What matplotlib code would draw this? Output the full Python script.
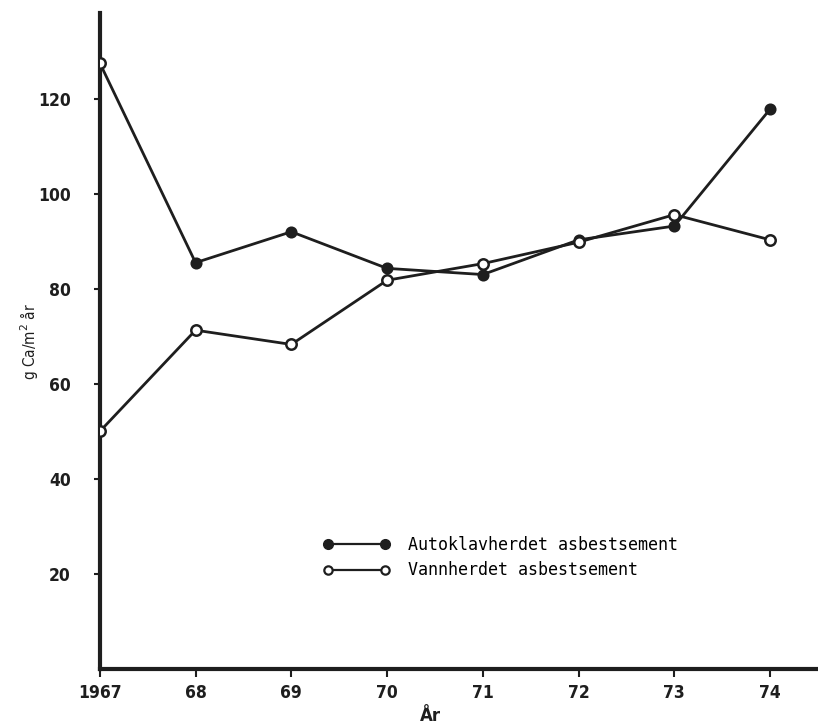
import matplotlib.pyplot as plt
from matplotlib.lines import Line2D

# years on the x axis (1967 .. 1974)
years = [1967, 1968, 1969, 1970, 1971, 1972, 1973, 1974]
year_labels = ["1967", "68", "69", "70", "71", "72", "73", "74"]

# g Ca / m2 per year
autoklav = [127.5, 85.5, 92.0, 84.3, 83.0, 90.3, 93.2, 117.8]
vannherdet = [50.0, 71.3, 68.3, 81.8, 85.3, 89.8, 95.6, 90.3]

y_ticks = [20, 40, 60, 80, 100, 120]

ink = "#1e1e1e"
tick_font = dict(family="DejaVu Sans", stretch="condensed",
                 weight="bold", size=12.5)

fig = plt.figure(figsize=(8.18, 7.25), dpi=100)
ax = fig.add_axes([0.122, 0.077, 0.878, 0.905])

# autoklavherdet: filled markers (first point is drawn open in the original)
ax.plot(years, autoklav, "-", color=ink, linewidth=2.0, zorder=2)
ax.plot(years[1:], autoklav[1:], "o", color=ink, markersize=7.5,
        markeredgewidth=1.2, zorder=3)
ax.plot(years[:1], autoklav[:1], "o", markerfacecolor="white",
        markeredgecolor=ink, markersize=7.5, markeredgewidth=1.8, zorder=3)

# vannherdet: open markers
ax.plot(years, vannherdet, "-o", color=ink, linewidth=2.0,
        markerfacecolor="white", markeredgecolor=ink,
        markersize=7.5, markeredgewidth=1.8, zorder=3)

ax.set_xlim(1967, 1974.5)
ax.set_ylim(0, 138)

ax.set_xticks(years)
ax.set_xticklabels(year_labels, fontdict=tick_font)
ax.set_yticks(y_ticks)
ax.set_yticklabels([str(v) for v in y_ticks], fontdict=tick_font)

for side in ["top", "right"]:
    ax.spines[side].set_visible(False)
for side in ["left", "bottom"]:
    ax.spines[side].set_linewidth(3)
    ax.spines[side].set_color(ink)

ax.tick_params(axis="y", direction="out", length=4, width=1.5, pad=17,
               colors=ink)
ax.tick_params(axis="x", direction="out", length=6, width=1.5, pad=5,
               colors=ink)

ax.set_ylabel("g Ca/m$^2$ år", fontsize=11, color=ink,
              family="DejaVu Sans", stretch="condensed")
ax.yaxis.set_label_coords(-0.083, 0.5)
ax.set_xlabel("År", fontsize=12, color=ink,
              family="DejaVu Sans", weight="bold")
ax.xaxis.set_label_coords(0.46, -0.058)

# legend
handles = [
    Line2D([], [], color=ink, linewidth=1.6, marker="o", markersize=7,
           markerfacecolor=ink, markeredgecolor=ink),
    Line2D([], [], color=ink, linewidth=1.6, marker="o", markersize=6,
           markerfacecolor="white", markeredgecolor=ink, markeredgewidth=1.6),
]
ax.legend(handles, ["Autoklavherdet asbestsement", "Vannherdet asbestsement"],
          loc="upper left", bbox_to_anchor=(0.29, 0.226), numpoints=2,
          handlelength=4.0, handletextpad=1.1, labelspacing=0.45,
          frameon=False,
          prop=dict(family="DejaVu Sans Mono", size=12))

fig.savefig("out.png", dpi=100)
